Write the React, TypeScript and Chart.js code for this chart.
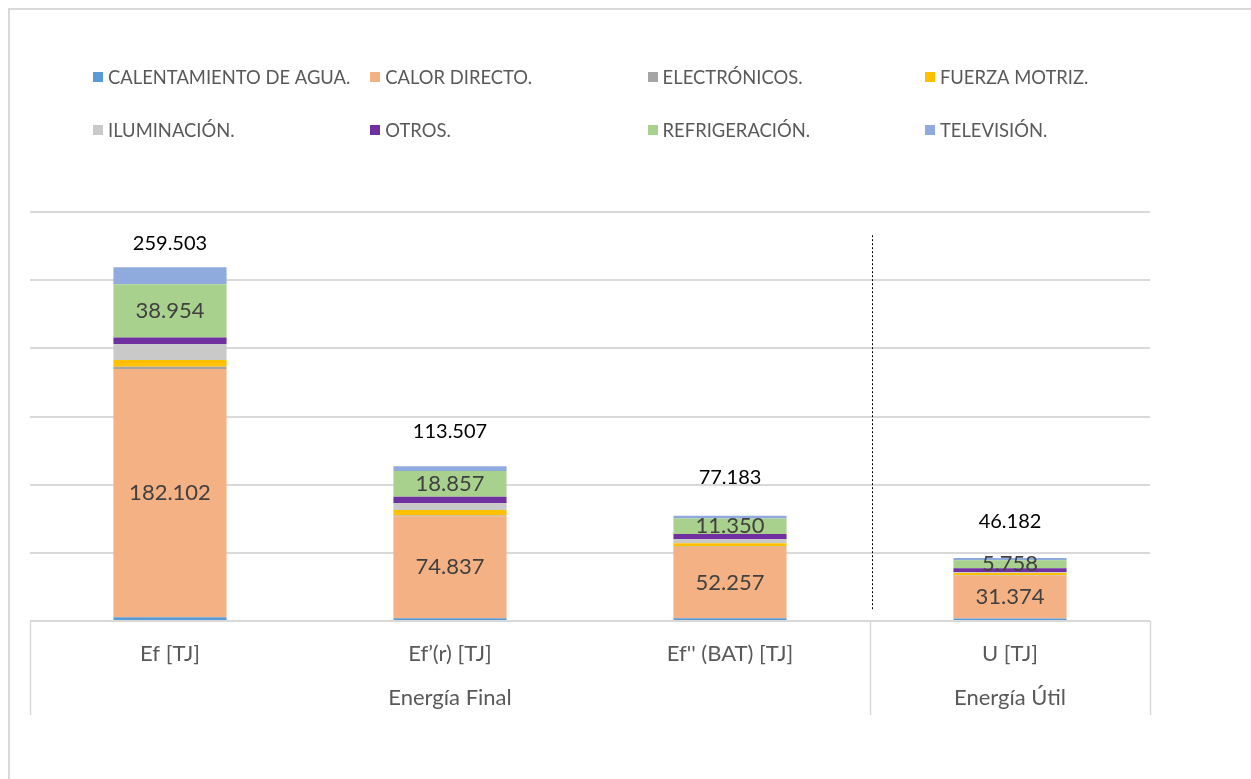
import { useEffect, useRef } from "react";
import { Chart, registerables } from "chart.js";

Chart.register(...registerables);

// ---------- data ----------
const categories = ["Ef [TJ]", "Ef’(r) [TJ]", "Ef'' (BAT) [TJ]", "U [TJ]"];
const groupLabels = ["Energía Final", "Energía Útil"];
const groupSpans = [
  [0, 2],
  [3, 3],
];

const calentamientoAgua = [2.8, 2.0, 2.0, 1.8];
const calorDirecto = [182.102, 74.837, 52.257, 31.374];
const electronicos = [1.6, 0.5, 0.4, 0.3];
const fuerzaMotriz = [5.0, 4.0, 2.4, 1.8];
const iluminacion = [11.5, 5.0, 2.976, 0.5];
const otros = [5.0, 4.8, 3.8, 3.0];
const refrigeracion = [38.954, 18.857, 11.35, 5.758];
const television = [12.55, 3.5, 2.0, 1.65];
const totals = [259.503, 113.507, 77.183, 46.182];

const seriesNames = [
  "CALENTAMIENTO DE AGUA.",
  "CALOR DIRECTO.",
  "ELECTRÓNICOS.",
  "FUERZA MOTRIZ.",
  "ILUMINACIÓN.",
  "OTROS.",
  "REFRIGERACIÓN.",
  "TELEVISIÓN.",
];
const seriesValues = [
  calentamientoAgua,
  calorDirecto,
  electronicos,
  fuerzaMotriz,
  iluminacion,
  otros,
  refrigeracion,
  television,
];
const labeledSeries = [1, 6];

// ---------- styles ----------
const seriesColors = [
  "#5B9BD5",
  "#F4B183",
  "#A5A5A5",
  "#FFC000",
  "#C9C9C9",
  "#7030A0",
  "#A9D18E",
  "#8FAADC",
];
const FONT = "Lato, 'Open Sans', sans-serif";
const totalLabelLift = [24, 35, 38, 36];
const legendLeft = 93;
const legendColWidth = 277.3;
const legendRowY = [77, 130];
const categoryLabelY = 654;
const groupLabelY = 698;
const separatorBottom = 715;

const fmt = (v: number) => v.toFixed(3);

const overlayPlugin = {
  id: "overlay",
  afterDatasetsDraw(chart: any) {
    const ctx: CanvasRenderingContext2D = chart.ctx;
    const xs = chart.scales.x;
    const ys = chart.scales.y;
    const area = chart.chartArea;
    ctx.save();
    ctx.textAlign = "center";
    ctx.textBaseline = "middle";

    // values inside segments
    ctx.font = `22px ${FONT}`;
    ctx.fillStyle = "#404040";
    labeledSeries.forEach((di) => {
      const meta = chart.getDatasetMeta(di);
      meta.data.forEach((bar: any, i: number) => {
        const p = bar.getProps(["x", "y", "base"], true);
        ctx.fillText(fmt(seriesValues[di][i]), p.x, (p.y + p.base) / 2);
      });
    });

    // totals
    ctx.font = `20px ${FONT}`;
    ctx.fillStyle = "#000000";
    totals.forEach((t, i) => {
      ctx.fillText(fmt(t), xs.getPixelForValue(i), ys.getPixelForValue(t) - totalLabelLift[i]);
    });

    // category boundaries
    const n = categories.length;
    const boundary = (k: number) => {
      if (k <= 0) return area.left;
      if (k >= n) return area.right;
      return (xs.getPixelForValue(k - 1) + xs.getPixelForValue(k)) / 2;
    };
    const base = ys.getPixelForValue(0);
    ctx.strokeStyle = "#D9D9D9";
    ctx.lineWidth = 1.5;
    const sepIdx = [0, groupSpans[1][0], n];
    sepIdx.forEach((k) => {
      const bx = Math.round(boundary(k)) + 0.5;
      ctx.beginPath();
      ctx.moveTo(bx, base);
      ctx.lineTo(bx, separatorBottom);
      ctx.stroke();
    });

    // dotted divider between groups
    const dx = Math.round(boundary(groupSpans[1][0])) + 2.5;
    ctx.strokeStyle = "#000000";
    ctx.lineWidth = 1;
    ctx.setLineDash([2, 2]);
    ctx.beginPath();
    ctx.moveTo(dx, ys.getPixelForValue(283));
    ctx.lineTo(dx, ys.getPixelForValue(8));
    ctx.stroke();
    ctx.setLineDash([]);

    // category labels
    ctx.font = `22px ${FONT}`;
    ctx.fillStyle = "#595959";
    categories.forEach((c, i) => {
      ctx.fillText(c, xs.getPixelForValue(i), categoryLabelY);
    });
    groupLabels.forEach((g, gi) => {
      const [a, b] = groupSpans[gi];
      const cx = (boundary(a) + boundary(b + 1)) / 2;
      ctx.fillText(g, cx, groupLabelY);
    });

    // legend
    ctx.font = `18.4px ${FONT}`;
    ctx.textAlign = "left";
    seriesNames.forEach((name, i) => {
      const col = i % 4;
      const row = Math.floor(i / 4);
      const lx = legendLeft + legendColWidth * col;
      const ly = legendRowY[row];
      ctx.fillStyle = seriesColors[i];
      ctx.fillRect(Math.round(lx), ly - 5, 10, 10);
      ctx.fillStyle = "#595959";
      ctx.fillText(name, lx + 15, ly + 1);
    });

    ctx.restore();
  },
};

export default function App() {
  const ref = useRef<HTMLCanvasElement>(null);
  useEffect(() => {
    if (!ref.current) return;
    const chart = new Chart(ref.current, {
      type: "bar",
      data: {
        labels: categories,
        datasets: seriesValues.map((vals, i) => ({
          label: seriesNames[i],
          data: vals,
          backgroundColor: seriesColors[i],
          borderWidth: 0,
          barPercentage: 0.404,
          categoryPercentage: 1,
        })),
      },
      options: {
        animation: false,
        responsive: false,
        devicePixelRatio: 1,
        layout: { padding: { left: 30, right: 101, top: 212, bottom: 158 } },
        plugins: {
          legend: { display: false },
          tooltip: { enabled: false },
          title: { display: false },
        },
        scales: {
          x: {
            stacked: true,
            grid: { display: false },
            border: { display: false },
            ticks: { display: false },
            afterFit: (s: any) => {
              s.height = 0;
            },
          },
          y: {
            stacked: true,
            min: 0,
            max: 300,
            ticks: { display: false, stepSize: 50 },
            border: { display: false },
            grid: { color: "#D9D9D9", lineWidth: 2, drawTicks: false },
            afterFit: (s: any) => {
              s.width = 0;
            },
          },
        },
      },
      plugins: [overlayPlugin],
    });
    return () => chart.destroy();
  }, []);

  return (
    <div
      style={{
        position: "fixed",
        left: 0,
        top: 0,
        width: 1251,
        height: 779,
        overflow: "hidden",
        background: "#ffffff",
      }}
    >
      <div
        style={{
          position: "absolute",
          left: 8,
          top: 8,
          width: 1400,
          height: 900,
          borderTop: "2px solid #D9D9D9",
          borderLeft: "2px solid #D9D9D9",
        }}
      />
      <canvas
        ref={ref}
        width={1251}
        height={779}
        style={{ position: "absolute", left: 0, top: 0, width: 1251, height: 779 }}
      />
    </div>
  );
}
